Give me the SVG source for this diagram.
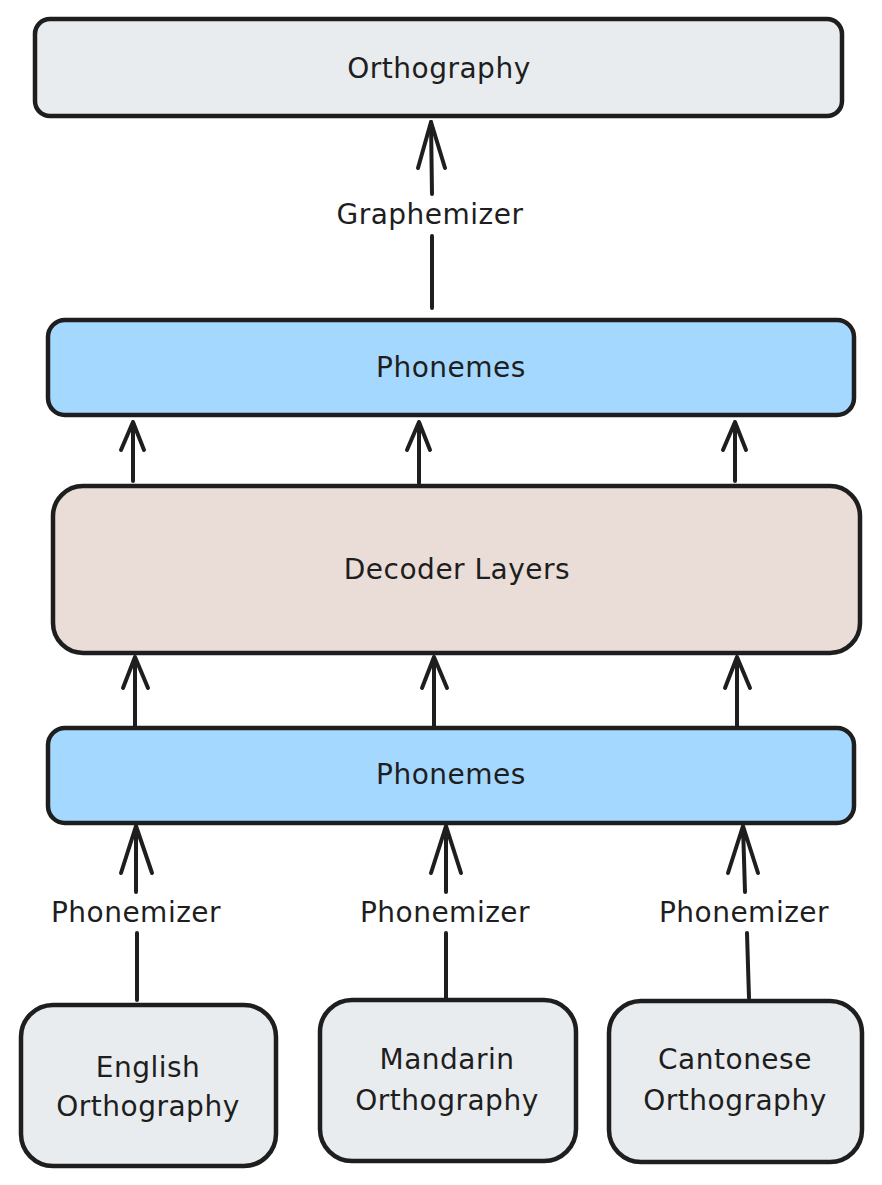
<svg xmlns="http://www.w3.org/2000/svg" width="882" height="1185" viewBox="0 0 882 1185">
<style>
.box{stroke:#1e1e1e;stroke-width:4.5;stroke-linejoin:round}
.grey{fill:#e9ecef}
.blue{fill:#a5d8ff}
.brown{fill:#eaddd7}
.lbl{font-family:"DejaVu Sans","Liberation Sans",sans-serif;font-size:28px;fill:#1e1e1e;text-anchor:middle;dominant-baseline:central;letter-spacing:0.5px}
.ln{fill:none;stroke:#1e1e1e;stroke-width:4;stroke-linecap:round;stroke-linejoin:round}
</style>
<rect width="882" height="1185" fill="#ffffff"/>
<g id="connectors">
  <g id="graphemizer">
    <path class="ln" d="M432 308 L432 236 M432 194 L431 122"/>
    <path class="ln" d="M418 168 L431 122 L445 168"/>
    <text class="lbl" x="430" y="214">Graphemizer</text>
  </g>
  <g id="dec-to-phon-top">
    <path class="ln" d="M133 481 L133 422 M121 450 L133 422 L144 450"/>
    <path class="ln" d="M419 483 L419 422 M407 450 L419 422 L430 450"/>
    <path class="ln" d="M735 481 L735 422 M723 450 L735 422 L746 450"/>
  </g>
  <g id="phon-to-dec">
    <path class="ln" d="M135 726 L135 657 M123 688 L135 657 L148 688"/>
    <path class="ln" d="M434 726 L434 657 M422 688 L434 657 L447 688"/>
    <path class="ln" d="M737 726 L737 657 M725 688 L737 657 L750 688"/>
  </g>
  <g id="phonemizers">
    <path class="ln" d="M137 1000 L137 933 M136 892 L136 826 M121 873 L136 826 L152 873"/>
    <text class="lbl" x="136" y="912">Phonemizer</text>
    <path class="ln" d="M446 998 L446 933 M446 892 L446 826 M431 873 L446 826 L461 873"/>
    <text class="lbl" x="445" y="912">Phonemizer</text>
    <path class="ln" d="M749 998 L747 933 M745 892 L743 826 M728 873 L743 826 L758 873"/>
    <text class="lbl" x="744" y="912">Phonemizer</text>
  </g>
</g>
<g id="orthography">
  <rect class="box grey" x="35" y="19" width="807" height="97" rx="15"/>
  <text class="lbl" x="439" y="68">Orthography</text>
</g>
<g id="phonemes-top">
  <rect class="box blue" x="48" y="320" width="806" height="95" rx="17"/>
  <text class="lbl" x="451" y="367">Phonemes</text>
</g>
<g id="decoder">
  <rect class="box brown" x="53" y="486" width="807" height="167" rx="30"/>
  <text class="lbl" x="457" y="569">Decoder Layers</text>
</g>
<g id="phonemes-bottom">
  <rect class="box blue" x="48" y="728" width="806" height="95" rx="17"/>
  <text class="lbl" x="451" y="774">Phonemes</text>
</g>
<g id="english">
  <rect class="box grey" x="21" y="1005" width="255" height="161" rx="32"/>
  <text class="lbl" x="148" y="1067">English</text>
  <text class="lbl" x="148" y="1106">Orthography</text>
</g>
<g id="mandarin">
  <rect class="box grey" x="320" y="1000" width="256" height="161" rx="32"/>
  <text class="lbl" x="447" y="1059">Mandarin</text>
  <text class="lbl" x="447" y="1100">Orthography</text>
</g>
<g id="cantonese">
  <rect class="box grey" x="609" y="1001" width="253" height="161" rx="32"/>
  <text class="lbl" x="735" y="1059">Cantonese</text>
  <text class="lbl" x="735" y="1100">Orthography</text>
</g>
</svg>
